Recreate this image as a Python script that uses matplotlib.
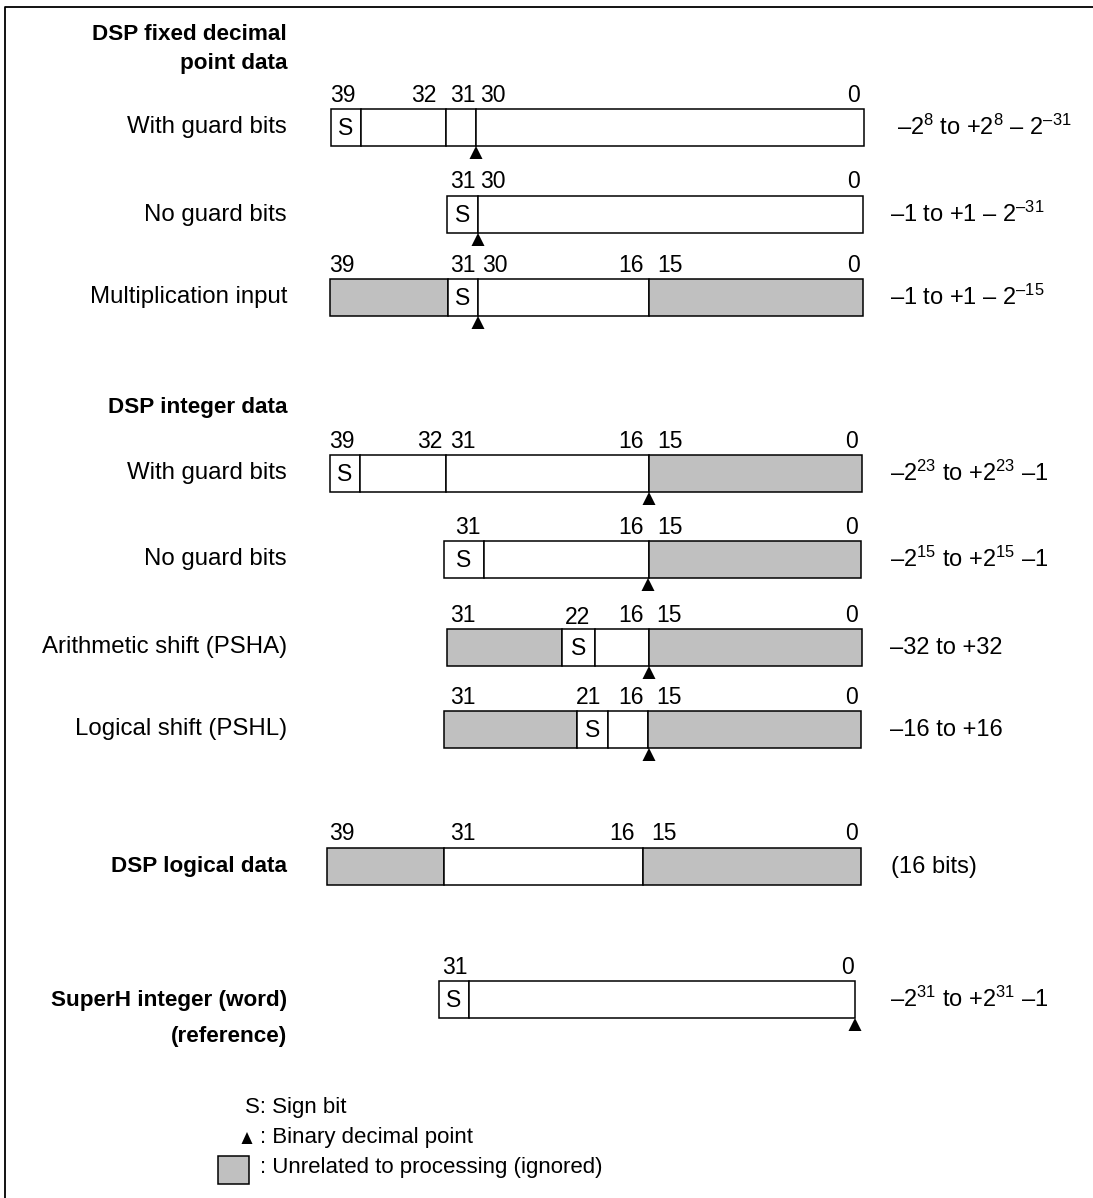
import matplotlib
matplotlib.use("Agg")
import matplotlib.pyplot as plt
from matplotlib.patches import Rectangle, Polygon

plt.rcParams['font.family'] = ['Liberation Sans', 'DejaVu Sans']
plt.rcParams['mathtext.fontset'] = 'custom'
plt.rcParams['mathtext.rm'] = 'Liberation Sans'
plt.rcParams['mathtext.it'] = 'Liberation Sans'

W, H = 1093, 1198
FS_LABEL = 17.3
FS_BOLD = 16.2
FS_BITS = 16.5
FS_RANGE = 17
FS_LEGEND = 16
GRAY = "#c0c0c0"

# ---- content ----
section_titles = [["DSP fixed decimal", "point data"], ["DSP integer data"]]
row_names = ["With guard bits", "No guard bits", "Multiplication input",
             "With guard bits", "No guard bits", "Arithmetic shift (PSHA)",
             "Logical shift (PSHL)", "DSP logical data",
             "SuperH integer (word)"]
row_bold = [False, False, False, False, False, False, False, True, True]
row_ranges = [r"–2$^{8}$ to +2$^{8}$ – 2$^{\mathrm{–31}}$",
              r"–1 to +1 – 2$^{\mathrm{–31}}$",
              r"–1 to +1 – 2$^{\mathrm{–15}}$",
              r"–2$^{23}$ to +2$^{23}$ –1",
              r"–2$^{15}$ to +2$^{15}$ –1",
              "–32 to +32",
              "–16 to +16",
              "(16 bits)",
              r"–2$^{31}$ to +2$^{31}$ –1"]
# bit numbers written above each register
row_bits = [["39", "32", "31", "30", "0"],
            ["31", "30", "0"],
            ["39", "31", "30", "16", "15", "0"],
            ["39", "32", "31", "16", "15", "0"],
            ["31", "16", "15", "0"],
            ["31", "22", "16", "15", "0"],
            ["31", "21", "16", "15", "0"],
            ["39", "31", "16", "15", "0"],
            ["31", "0"]]
# cells of each register: kind is 'S' (sign), 'w' (used), 'g' (ignored)
row_cells = [["S", "w", "w", "w"],
             ["S", "w"],
             ["g", "S", "w", "g"],
             ["S", "w", "w", "g"],
             ["S", "w", "g"],
             ["g", "S", "w", "g"],
             ["g", "S", "w", "g"],
             ["g", "w", "g"],
             ["S", "w"]]
legend_items = ["S: Sign bit", ": Binary decimal point",
                ": Unrelated to processing (ignored)"]

# ---- layout (pixel units) ----
bar_top = [109, 196, 279, 455, 541, 629, 711, 848, 981]
bar_h = 37
cell_edges = [[331, 361, 446, 476, 864],
              [447, 478, 863],
              [330, 448, 478, 649, 863],
              [330, 360, 446, 649, 862],
              [444, 484, 649, 861],
              [447, 562, 595, 649, 862],
              [444, 577, 608, 648, 861],
              [327, 444, 643, 861],
              [439, 469, 855]]
bit_x = [[343, 424, 463, 493, 853],
         [463, 493, 853],
         [342, 463, 495, 631, 670, 853],
         [342, 430, 463, 631, 670, 851],
         [468, 631, 670, 851],
         [463, 577, 631, 669, 851],
         [463, 589, 631, 669, 851],
         [342, 463, 622, 664, 851],
         [455, 847]]
bit_dy = [[0] * 5, [0] * 3, [0] * 6, [0] * 6, [0] * 4,
          [0, 3, 0, 0, 0], [0] * 5, [0] * 5, [0] * 2]
point_x = [476, 478, 478, 649, 648, 649, 649, None, 855]
range_x = [897, 890, 890, 890, 890, 890, 890, 891, 890]
title_y = [[35, 64], [407]]
label_right = 287


def triangle(ax, x, y, w=13, h=13):
    ax.add_patch(Polygon([[x - w / 2, y + h], [x + w / 2, y + h], [x, y]],
                         closed=True, fc="black", ec="none"))


fig = plt.figure(figsize=(W / 100, H / 100), dpi=100)
ax = fig.add_axes([0, 0, 1, 1])
ax.set_xlim(0, W)
ax.set_ylim(H, 0)
ax.axis("off")

# outer frame (only top and left edges are visible)
ax.plot([5, 5, W + 5], [H + 5, 7, 7], color="black", lw=1.3)

for lines, ys in zip(section_titles, title_y):
    for line, y in zip(lines, ys):
        ax.text(label_right, y, line, ha="right", va="center",
                fontsize=FS_BOLD, fontweight="bold")

for i, name in enumerate(row_names):
    top = bar_top[i]
    yc = top + bar_h / 2
    edges = cell_edges[i]
    for k, kind in enumerate(row_cells[i]):
        x0, x1 = edges[k], edges[k + 1]
        fc = GRAY if kind == "g" else "white"
        ax.add_patch(Rectangle((x0, top), x1 - x0, bar_h, fc=fc,
                               ec="black", lw=1.1))
        if kind == "S":
            ax.text((x0 + x1) / 2, yc + 1, "S", ha="center", va="center",
                    fontsize=FS_BITS)
    for b, bx, dy in zip(row_bits[i], bit_x[i], bit_dy[i]):
        ax.text(bx, top - 14 + dy, b, ha="center", va="center",
                fontsize=FS_BITS)
    if point_x[i] is not None:
        triangle(ax, point_x[i], top + bar_h)
    if i == 8:
        ax.text(label_right, yc + 1, name, ha="right", va="center",
                fontsize=FS_BOLD, fontweight="bold")
        ax.text(label_right, yc + 37, "(reference)", ha="right", va="center",
                fontsize=FS_BOLD, fontweight="bold")
    elif row_bold[i]:
        ax.text(label_right, yc, name, ha="right", va="center",
                fontsize=FS_BOLD, fontweight="bold")
    else:
        ax.text(label_right, yc, name, ha="right", va="center",
                fontsize=FS_LABEL)
    ax.text(range_x[i], yc, row_ranges[i], ha="left", va="center",
            fontsize=FS_RANGE)

# legend
ax.text(245, 1108, legend_items[0], ha="left", va="center",
        fontsize=FS_LEGEND)
triangle(ax, 247, 1132, w=11, h=12)
ax.text(260, 1137, legend_items[1], ha="left", va="center",
        fontsize=FS_LEGEND)
ax.add_patch(Rectangle((218, 1156), 31, 28, fc=GRAY, ec="black", lw=1.1))
ax.text(260, 1167, legend_items[2], ha="left", va="center",
        fontsize=FS_LEGEND)

fig.savefig("out.png", dpi=100)
